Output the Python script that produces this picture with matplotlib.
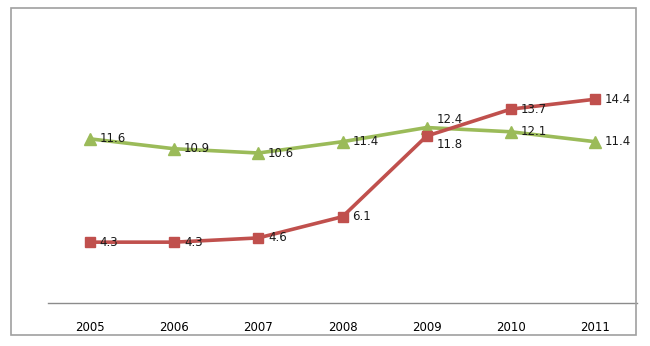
import matplotlib.pyplot as plt
from matplotlib.patches import Rectangle

years = ["2005", "2006", "2007", "2008", "2009", "2010", "2011"]
green_vals = [11.6, 10.9, 10.6, 11.4, 12.4, 12.1, 11.4]
red_vals = [4.3, 4.3, 4.6, 6.1, 11.8, 13.7, 14.4]

GREEN = "#9BBB59"
RED = "#C0504D"

fig = plt.figure(figsize=(6.5, 3.46), dpi=100)
ax = fig.add_axes([48 / 650, 1 - 303 / 346, (637 - 48) / 650, (303 - 20) / 346])

x = list(range(len(years)))
ax.plot(x, green_vals, color=GREEN, lw=2.6, marker="^", ms=8, zorder=3)
ax.plot(x, red_vals, color=RED, lw=2.6, marker="s", ms=7, zorder=3)

# value labels to the right of each point; nudge apart where the two series are close
for xi, g, r in zip(x, green_vals, red_vals):
    dy = 0
    if abs(g - r) < 1.5:
        dy = 6 if g >= r else -6
    ax.annotate(f"{g:.1f}", (xi, g), xytext=(7, dy), textcoords="offset points",
                va="center", ha="left", fontsize=8.5, color="#1a1a1a", zorder=4)
    ax.annotate(f"{r:.1f}", (xi, r), xytext=(7, -dy), textcoords="offset points",
                va="center", ha="left", fontsize=8.5, color="#1a1a1a", zorder=4)

ax.set_xlim(-0.5, len(years) - 0.5)
ax.set_ylim(0, 20)
ax.set_xticks(x)
ax.set_xticklabels(years, fontsize=8.5)
ax.tick_params(axis="x", length=0, pad=13)
ax.set_yticks([])
for side in ["top", "right", "left"]:
    ax.spines[side].set_visible(False)
ax.spines["bottom"].set_color("#8c8c8c")
ax.spines["bottom"].set_linewidth(1.0)

# outer chart border
fig.patches.append(Rectangle((11 / 650, 1 - 335 / 346), (636 - 11) / 650, (335 - 8) / 346,
                             transform=fig.transFigure, fill=False,
                             edgecolor="#a0a0a0", linewidth=1.2))

fig.savefig("out.png", dpi=100)
